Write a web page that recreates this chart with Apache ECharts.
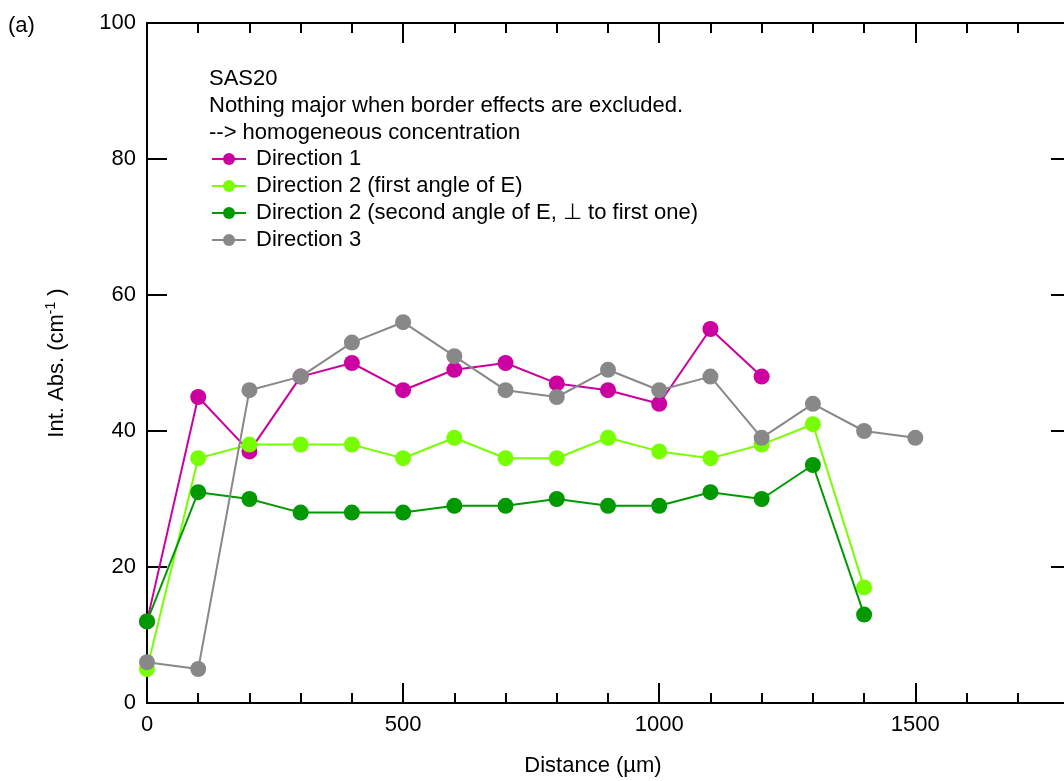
<!DOCTYPE html>
<html>
<head>
<meta charset="utf-8">
<script src="https://cdn.jsdelivr.net/npm/echarts@6/dist/echarts.min.js"></script>
<style>
html,body{margin:0;padding:0;background:#fff;}
#chart{width:1064px;height:781px;}
</style>
</head>
<body>
<div id="chart"></div>
<script>
var distances = [0, 100, 200, 300, 400, 500, 600, 700, 800, 900, 1000, 1100, 1200, 1300, 1400, 1500];
var dir1 = [12, 45, 37, 48, 50, 46, 49, 50, 47, 46, 44, 55, 48];
var dir2a = [5, 36, 38, 38, 38, 36, 39, 36, 36, 39, 37, 36, 38, 41, 17];
var dir2b = [12, 31, 30, 28, 28, 28, 29, 29, 30, 29, 29, 31, 30, 35, 13];
var dir3 = [6, 5, 46, 48, 53, 56, 51, 46, 45, 49, 46, 48, 39, 44, 40, 39];
var seriesNames = ['Direction 1', 'Direction 2 (first angle of E)', 'Direction 2 (second angle of E, \u22A5 to first one)', 'Direction 3'];
var headerLines = ['SAS20', 'Nothing major when border effects are excluded.', '--> homogeneous concentration'];
var xName = 'Distance (\u00B5m)';
var panelLabel = '(a)';

function pairs(vals) {
  return vals.map(function (v, i) { return [distances[i], v]; });
}

var colors = ['#CC00A0', '#77FF00', '#009900', '#888888'];
var font = '"Liberation Sans", Arial, Helvetica, sans-serif';
var fs = 22;
var allData = [dir1, dir2a, dir2b, dir3];

var chart = echarts.init(document.getElementById('chart'), null, {renderer: 'canvas'});

var axisLine = {show: true, onZero: false, lineStyle: {color: '#000', width: 2}};

function xAx(pos, major, labels) {
  return {
    type: 'value', position: pos, min: 0, max: 1800,
    interval: major ? 500 : 100,
    axisLine: axisLine,
    axisTick: {show: true, inside: true, length: major ? 20 : 10, lineStyle: {color: '#000', width: 2}},
    axisLabel: {show: labels, fontFamily: font, fontSize: fs, color: '#000', margin: 11, showMaxLabel: false,
      formatter: function (v) { return String(v); }},
    splitLine: {show: false},
    name: labels ? xName : '',
    nameLocation: 'middle', nameGap: 52,
    nameTextStyle: {fontFamily: font, fontSize: fs, color: '#000', padding: [0, 30, 0, 0]}
  };
}

var series = allData.map(function (vals, i) {
  return {
    name: seriesNames[i], type: 'line', xAxisIndex: 0, yAxisIndex: 0,
    data: pairs(vals),
    symbol: 'circle', symbolSize: 16,
    lineStyle: {color: colors[i], width: 2},
    itemStyle: {color: colors[i]},
    emphasis: {disabled: true},
    animation: false,
    z: 2 + i
  };
});

var headerTops = [68, 95, 122];
var graphics = headerLines.map(function (t, i) {
  return {
    type: 'text', left: 209, top: headerTops[i],
    style: {text: t, fontFamily: font, fontSize: fs, fill: '#000'}
  };
});
graphics.push({
  type: 'text', left: 8, top: 15,
  style: {text: panelLabel, fontFamily: font, fontSize: fs, fill: '#000'}
});

chart.setOption({
  animation: false,
  backgroundColor: '#fff',
  grid: {left: 147, top: 23, width: 922, height: 680, containLabel: false, outerBoundsMode: 'none'},
  legend: {
    show: true, orient: 'vertical', left: 211, top: 148, padding: 0,
    itemWidth: 34, itemHeight: 15, itemGap: 5,
    data: seriesNames,
    selectedMode: false,
    textStyle: {fontFamily: font, fontSize: fs, color: '#000', lineHeight: 22, padding: [0, 0, 0, 5]}
  },
  xAxis: [xAx('bottom', true, true), xAx('bottom', false, false), xAx('top', true, false), xAx('top', false, false)],
  yAxis: [
    {
      type: 'value', position: 'left', min: 0, max: 100, interval: 20,
      axisLine: axisLine,
      axisTick: {show: true, inside: true, length: 20, lineStyle: {color: '#000', width: 2}},
      axisLabel: {fontFamily: font, fontSize: fs, color: '#000', margin: 11},
      splitLine: {show: false},
      name: 'Int. Abs. (cm{sup|-1} )',
      nameLocation: 'middle', nameGap: 77, nameRotate: 90,
      nameTextStyle: {
        fontFamily: font, fontSize: fs, color: '#000', lineHeight: 26,
        rich: {sup: {fontFamily: font, fontSize: 14, color: '#000', verticalAlign: 'top', lineHeight: 26}}
      }
    },
    {
      type: 'value', position: 'right', min: 0, max: 100, interval: 20,
      axisLine: axisLine,
      axisTick: {show: true, inside: true, length: 18, lineStyle: {color: '#000', width: 2}},
      axisLabel: {show: false},
      splitLine: {show: false}
    }
  ],
  series: series,
  graphic: graphics
});
</script>
</body>
</html>
